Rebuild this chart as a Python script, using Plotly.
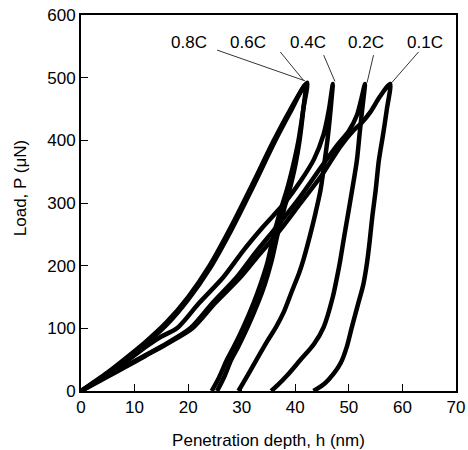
import plotly.graph_objects as go

# ---- data (h in nm, P in uN) ----
series_names = ["0.8C", "0.6C", "0.4C", "0.2C", "0.1C"]

load_h_08 = [0, 2, 5, 8, 12, 16, 20, 24, 28, 32, 36, 39, 42.2]
load_P_08 = [0, 12, 30, 50, 78, 110, 150, 200, 262, 330, 400, 448, 492]
unload_h_08 = [42.2, 41.5, 40.6, 39.6, 38.4, 37.3, 36, 34.8, 33.5, 32.2, 30.3, 28.5, 27.2, 25.8, 24.4]
unload_P_08 = [492, 450, 400, 360, 320, 290, 250, 205, 170, 140, 102, 70, 49, 22, 0]

load_h_06 = [0, 2, 5, 8, 12, 16, 20, 24, 28, 32, 36, 39, 41.9]
load_P_06 = [0, 11, 29, 48, 75, 106, 146, 195, 256, 324, 395, 444, 489]
unload_h_06 = [41.9, 41.5, 40.8, 40, 38.9, 37.9, 36.7, 35.5, 34.3, 33, 31.1, 29.3, 28, 26.7, 25.4]
unload_P_06 = [489, 450, 400, 360, 320, 290, 250, 205, 170, 140, 102, 70, 49, 22, 0]

load_h_04 = [0, 2, 5, 8, 12, 15, 17.9, 22, 26.6, 30.3, 34, 38, 41, 43.5, 45.3, 46.3, 47]
load_P_04 = [0, 10, 27, 44, 70, 87, 100, 140, 182, 224, 262, 300, 335, 370, 410, 450, 490]
unload_h_04 = [47, 46.6, 46, 45.5, 44.7, 43.8, 42.8, 41.5, 40.7, 39.4, 37.8, 36.4, 34.8, 32.7, 31.1, 29.4]
unload_P_04 = [490, 450, 400, 368, 320, 285, 250, 209, 188, 160, 125, 102, 80, 49, 25, 0]

load_h_02 = [0, 2, 5, 8, 12, 16, 20.4, 24.5, 29.1, 32.5, 36.5, 40.5, 45.3, 47.8, 50, 51.5, 52.3, 53]
load_P_02 = [0, 10, 24, 38, 57, 76, 100, 140, 182, 220, 262, 305, 363, 392, 415, 440, 465, 490]
unload_h_02 = [53, 52.5, 52, 51.5, 50.6, 49.8, 49, 48.4, 47.8, 47, 45.3, 43.5, 40.9, 38.5, 36.8, 35.5]
unload_P_02 = [490, 450, 410, 368, 320, 280, 240, 209, 182, 150, 102, 75, 49, 25, 10, 0]

load_h_01 = [0, 2, 5, 8, 12, 16, 20.8, 25, 29.8, 33, 37, 41, 45, 48.4, 50.9, 52.4, 54, 55.8, 57.7]
load_P_01 = [0, 9, 23, 37, 56, 75, 100, 140, 182, 215, 255, 300, 345, 390, 416, 428, 445, 470, 490]
unload_h_01 = [57.7, 57.1, 56.4, 55.6, 55, 54.4, 53.9, 53.4, 52.7, 51.6, 50.5, 49.6, 48.5, 47.2, 45.5, 43.4]
unload_P_01 = [490, 450, 410, 368, 320, 280, 240, 205, 170, 135, 100, 70, 45, 28, 12, 0]

# labels and leader lines (data coordinates)
label_text = ["0.8C", "0.6C", "0.4C", "0.2C", "0.1C"]
label_h = [20.2, 31.2, 42.4, 53.2, 64.3]
label_P = [556, 556, 556, 556, 556]
leader_h0 = [25.4, 37.2, 45.3, 54.6, 63.0]
leader_P0 = [544, 541, 536, 536, 541]
leader_h1 = [41.8, 41.5, 47.4, 53.4, 58.0]
leader_P1 = [495, 496, 494, 492, 492]

x_ticks = [0, 10, 20, 30, 40, 50, 60, 70]
y_ticks = [0, 100, 200, 300, 400, 500, 600]

curves = [
    (load_h_08, load_P_08, unload_h_08, unload_P_08),
    (load_h_06, load_P_06, unload_h_06, unload_P_06),
    (load_h_04, load_P_04, unload_h_04, unload_P_04),
    (load_h_02, load_P_02, unload_h_02, unload_P_02),
    (load_h_01, load_P_01, unload_h_01, unload_P_01),
]

FONT = "Liberation Sans, Arial, Helvetica, sans-serif"
FS = 17

fig = go.Figure()
for name, (lh, lp, uh, up) in zip(series_names, curves):
    fig.add_trace(go.Scatter(
        x=lh + uh[1:], y=lp + up[1:], mode="lines", name=name,
        line=dict(color="black", width=4.5, shape="spline", smoothing=0.8),
        showlegend=False, hoverinfo="skip",
    ))

for t, x, y, h0, p0, h1, p1 in zip(label_text, label_h, label_P,
                                    leader_h0, leader_P0, leader_h1, leader_P1):
    fig.add_annotation(x=x, y=y, text=t, showarrow=False,
                       font=dict(family=FONT, size=FS, color="black"))
    fig.add_trace(go.Scatter(x=[h0, h1], y=[p0, p1], mode="lines",
                             line=dict(color="black", width=0.8),
                             showlegend=False, hoverinfo="skip"))

fig.add_annotation(text="Load, P (\u03bcN)", xref="paper", yref="paper",
                   x=-0.19, y=0.54, textangle=-90, showarrow=False,
                   font=dict(family=FONT, size=FS, color="black"))

fig.update_layout(
    width=468, height=450,
    margin=dict(l=81, r=12, t=15, b=59, autoexpand=False),
    plot_bgcolor="white", paper_bgcolor="white",
    font=dict(family=FONT, size=FS, color="black"),
    showlegend=False,
)
fig.update_xaxes(range=[0, 70], tickvals=x_ticks, ticks="inside", ticklen=7,
                 tickwidth=1.2, tickcolor="black", showline=True, linecolor="black",
                 linewidth=2, mirror=True, showgrid=False, zeroline=False,
                 automargin=False,
                 title=dict(text="Penetration depth, h (nm)", standoff=18,
                            font=dict(family=FONT, size=FS)),
                 tickfont=dict(family=FONT, size=FS))
fig.update_yaxes(range=[0, 600], tickvals=y_ticks, ticks="inside", ticklen=7,
                 tickwidth=1.2, tickcolor="black", showline=True, linecolor="black",
                 linewidth=2, mirror=True, showgrid=False, zeroline=False,
                 automargin=False,
                 tickfont=dict(family=FONT, size=FS))

fig.write_html("out.html", config={"displayModeBar": False},
               post_script="document.body.style.margin='0px';document.body.style.overflow='hidden';")
